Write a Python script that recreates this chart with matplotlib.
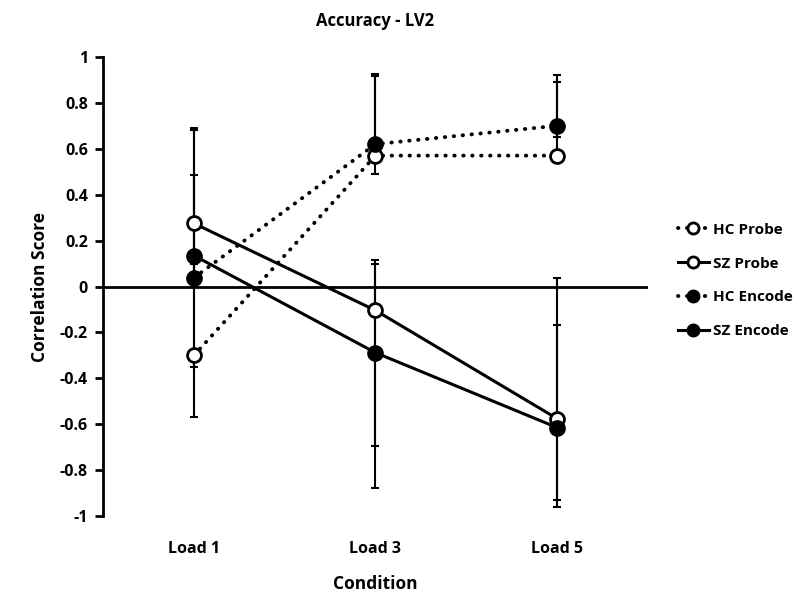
import numpy as np
import matplotlib.pyplot as plt

plt.rcParams['font.family'] = ['Open Sans', 'DejaVu Sans']
plt.rcParams['font.weight'] = 'bold'

conditions = ["Load 1", "Load 3", "Load 5"]

hc_probe = [-0.30, 0.57, 0.57]
hc_probe_lo = [-0.35, 0.49, 0.54]
hc_probe_hi = [0.487, 0.917, 0.89]

sz_probe = [0.275, -0.104, -0.575]
sz_probe_lo = [0.10, -0.696, -0.93]
sz_probe_hi = [0.69, 0.117, 0.036]

hc_encode = [0.038, 0.62, 0.70]
hc_encode_lo = [0.00, 0.58, 0.65]
hc_encode_hi = [0.10, 0.927, 0.92]

sz_encode = [0.135, -0.288, -0.614]
sz_encode_lo = [-0.568, -0.875, -0.96]
sz_encode_hi = [0.68, 0.10, -0.167]

x = np.arange(len(conditions)) + 0.5

fig = plt.figure(figsize=(7.93, 5.92), dpi=100)
ax = fig.add_axes([0.130, 0.128, 0.687, 0.776])

dotted = (0, (0.1, 2.2))
series = [
    ("HC Probe", hc_probe, hc_probe_lo, hc_probe_hi, dotted, "white"),
    ("SZ Probe", sz_probe, sz_probe_lo, sz_probe_hi, "-", "white"),
    ("HC Encode", hc_encode, hc_encode_lo, hc_encode_hi, dotted, "black"),
    ("SZ Encode", sz_encode, sz_encode_lo, sz_encode_hi, "-", "black"),
]

ax.axhline(0, color="black", lw=2, zorder=1)

for name, y, lo, hi, ls, fc in series:
    y = np.array(y)
    err = [y - np.array(lo), np.array(hi) - y]
    ax.errorbar(x, y, yerr=err, fmt="none", ecolor="black", elinewidth=1.5,
                capsize=3, capthick=1.5, zorder=2)
    ax.plot(x, y, linestyle=ls, color="black", lw=2.2 if ls == "-" else 2.8,
            marker="o", markersize=10, markerfacecolor=fc,
            markeredgecolor="black", markeredgewidth=2, label=name, zorder=3,
            dash_capstyle="round")

ax.set_xlim(0, 3)
ax.set_ylim(-1, 1)
ax.set_yticks(np.arange(-1, 1.01, 0.2))
ax.set_yticklabels(["-1", "-0.8", "-0.6", "-0.4", "-0.2", "0", "0.2", "0.4",
                    "0.6", "0.8", "1"])
ax.set_xticks(x)
ax.set_xticklabels(conditions)
ax.tick_params(axis="x", length=0, pad=18, labelsize=11.5)
ax.tick_params(axis="y", length=6, width=2, labelsize=11.5, pad=5)

for s in ["top", "right", "bottom"]:
    ax.spines[s].set_visible(False)
ax.spines["left"].set_linewidth(2)

ax.set_title("Accuracy - LV2", fontsize=12, fontweight="bold", pad=22)
ax.set_xlabel("Condition", fontsize=12.5, fontweight="bold", labelpad=13)
ax.set_ylabel("Correlation Score", fontsize=12.5, fontweight="bold", labelpad=8)

ax.legend(loc="center left", bbox_to_anchor=(1.03, 0.513), frameon=False,
          fontsize=11, handlelength=2.0, labelspacing=1.3, markerscale=0.8,
          handletextpad=0.3)

fig.savefig("out.png", dpi=100)
